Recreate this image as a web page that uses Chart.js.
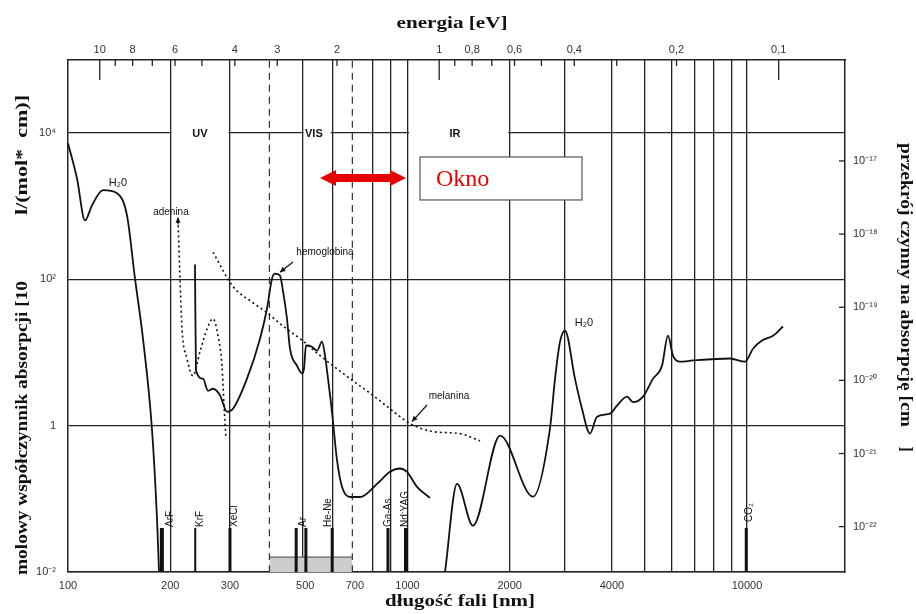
<!DOCTYPE html>
<html lang="pl">
<head>
<meta charset="utf-8">
<title>Widmo absorpcji</title>
<script src="https://cdn.jsdelivr.net/npm/chart.js@4.4.1/dist/chart.umd.min.js"></script>
<style>
  html, body { margin: 0; padding: 0; background: #fff; }
</style>
</head>
<body>
<canvas id="wykres" width="916" height="614"></canvas>
<script>
// dane: dlugosc fali [nm] i wartosc [l/(mol*cm)]
const wodaUvNm   = [100, 106.3, 112.2, 117.7, 126.8, 139.4, 149.2, 157.5, 166.3, 176.7, 182.9, 185.4];
const wodaUvWart = [7300, 2400, 640, 1030, 1660, 1510, 750, 103, 15.5, 0.91, 0.053, 0.01];

const wodaIrNm   = [1290, 1399, 1559, 1873, 2343, 2628, 2720, 2813, 2910, 3114, 3266, 3448, 3616, 3950, 4141,
                    4432, 4616, 4940, 5287, 5618, 5852, 6053, 6348, 6934, 8914, 9865, 10416, 11072, 11929, 12764];
const wodaIrWart = [0.01, 0.16, 0.043, 0.73, 0.107, 0.91, 4.4, 14, 20, 4.4, 1.7, 0.78, 1.33, 1.46, 1.88,
                    2.5, 2.1, 2.5, 4.4, 6.6, 17, 9.1, 7.5, 7.8, 8.3, 7.5, 11.3, 14.6, 17, 22.7];

const hemoNm   = [236.6, 238.2, 249.8, 258.5, 267.4, 280.4, 294, 306.2, 336.7, 367.8, 385.7, 399, 407.2, 421.2,
                  429.9, 441.6, 450.7, 472.6, 488.9, 495.6, 502.3, 523.2, 541.2, 560, 571.5, 583.2, 599.2,
                  619.9, 641.3, 676.9, 724.7, 813.2, 888.2, 950.4, 996.6, 1066.6, 1165];
const hemoWart = [160, 5.7, 4.4, 3.0, 3.2, 2.6, 1.55, 1.71, 4.4, 15.5, 40, 103, 120, 113,
                  69, 29, 11.3, 6.6, 5.2, 6.0, 12.5, 12, 10.6, 14.1, 9.1, 4.4, 1.55,
                  0.34, 0.146, 0.106, 0.106, 0.16, 0.234, 0.26, 0.234, 0.146, 0.103];

const adeninaNm   = [210.9, 213.8, 216.7, 224.1, 233.4, 244.8, 256.7, 267.4, 276.6, 284.2, 288.1, 292.0];
const adeninaWart = [640, 100, 21, 8.3, 4.8, 10.3, 21, 29, 17, 6.6, 1.9, 0.66];

const melaninaNm   = [267.4, 306.2, 350.7, 385.7, 429.9, 482.4, 552.6, 676.9, 791.3, 950.4, 1017, 1188.8, 1427.6, 1635];
const melaninaWart = [235, 80, 48, 35, 23, 15.5, 9.1, 4.4, 2.6, 1.33, 1.07, 0.83, 0.78, 0.62];

// lasery
const laseryNazwy = ['ArF', 'KrF', 'XeCl', 'Ar', '', 'He-Ne', 'Ga-As', 'Nd:YAG', 'CO₂'];
const laseryNm    = [189, 237, 300, 470, 502, 600, 876, 990, 9950];
const laserWys    = 0.04;

// zakres widzialny
const widzialnyNm = [392, 688];
const widzialnyWys = 0.016;

// osie
const osXEtykiety = [100, 200, 300, 500, 700, 1000, 2000, 4000, 10000];
const liniePionoweNm = [200, 300, 490, 600, 790, 890, 1000, 2000, 2900, 4000, 5000, 6000, 7000, 8000, 9000, 10000];
const osYWart = [0.01, 1, 100, 10000];
const osYEtykiety = ['10⁻²', '1', '10²', '10⁴'];
const przekrojWart = [1e-22, 1e-21, 1e-20, 1e-19, 1e-18, 1e-17];
const przekrojEtykiety = ['10⁻²²', '10⁻²¹', '10⁻²⁰', '10⁻¹⁹', '10⁻¹⁸', '10⁻¹⁷'];
const przesuniecieLog = 20.62;   // log10(lewa) - log10(prawa)
const energie = [10, 8, 6, 4, 3, 2, 1, 0.8, 0.6, 0.4, 0.2, 0.1];
const energieEtykiety = ['10', '8', '6', '4', '3', '2', '1', '0,8', '0,6', '0,4', '0,2', '0,1'];
const energieDrobne = [9, 7, 5, 0.9, 0.7, 0.5, 0.3];

// zakresy widma
const zakresy = [['UV', 244.8], ['VIS', 530], ['IR', 1380]];
const przerwy10k = [[200, 300], [490, 600], [1000, 2000]];

const XMIN = 100, XMAX = 19440, YMIN = 0.01, YMAX = 1e5;

function seria(nm, wart, styl) {
  return Object.assign({
    data: nm.map((x, i) => ({ x: x, y: wart[i] })),
    showLine: true,
    pointRadius: 0,
    borderColor: '#111',
    borderWidth: 1.8,
    fill: false,
    cubicInterpolationMode: 'monotone',
    xAxisID: 'x',
    yAxisID: 'y',
    order: 1
  }, styl || {});
}

const datasets = [];
datasets.push(seria(wodaUvNm, wodaUvWart));
datasets.push(seria(wodaIrNm, wodaIrWart));
datasets.push(seria(hemoNm, hemoWart));
datasets.push(seria(adeninaNm, adeninaWart, { borderDash: [2, 3], borderWidth: 1.6 }));
datasets.push(seria(melaninaNm, melaninaWart, { borderDash: [2, 3], borderWidth: 1.6 }));

const laserGrubosc = [4, 2, 3, 3, 3, 3, 3, 4, 3];
laseryNm.forEach((nm, i) => {
  datasets.push(seria([nm, nm], [YMIN, laserWys], { borderWidth: laserGrubosc[i], cubicInterpolationMode: 'default', order: 0 }));
});

widzialnyNm.forEach(nm => {
  datasets.push(seria([nm, nm], [YMIN, YMAX], { borderWidth: 1.2, borderColor: '#333', borderDash: [7, 5], order: 9 }));
});
datasets.push(seria(widzialnyNm, [widzialnyWys, widzialnyWys], {
  borderWidth: 1, borderColor: '#444', backgroundColor: '#cdcdcd', fill: 'start', order: 10
}));

const czcionkaOs = { family: '"Liberation Sans", Arial, sans-serif', size: 11 };
const fontTytul = 'bold 17px "Liberation Serif", "Times New Roman", serif';

function strzalka(ctx, x1, y1, x2, y2, r) {
  const kat = Math.atan2(y2 - y1, x2 - x1);
  ctx.beginPath();
  ctx.moveTo(x1, y1);
  ctx.lineTo(x2, y2);
  ctx.stroke();
  ctx.beginPath();
  ctx.moveTo(x2, y2);
  ctx.lineTo(x2 - r * Math.cos(kat - 0.45), y2 - r * Math.sin(kat - 0.45));
  ctx.lineTo(x2 - r * Math.cos(kat + 0.45), y2 - r * Math.sin(kat + 0.45));
  ctx.closePath();
  ctx.fill();
}

// tekst rozciagniety do zadanej dlugosci (skan ma szersze litery)
function tekstDopasowany(ctx, t, cx, cy, dlug, kat) {
  ctx.save();
  ctx.translate(cx, cy);
  ctx.rotate(kat);
  const w = ctx.measureText(t).width;
  ctx.scale(dlug / w, 1);
  ctx.fillText(t, 0, 0);
  ctx.restore();
}

const adnotacje = {
  id: 'adnotacje',
  beforeDatasetsDraw(chart) {
    const { ctx, scales: { x, y } } = chart;
    const y4 = y.getPixelForValue(1e4);
    ctx.save();
    ctx.fillStyle = '#fff';
    przerwy10k.forEach(([p, k]) => {
      const x1 = x.getPixelForValue(p) + 1.5, x2 = x.getPixelForValue(k) - 1.5;
      ctx.fillRect(x1, y4 - 2, x2 - x1, 4);
    });
    ctx.fillStyle = '#111';
    ctx.font = 'bold 11px "Liberation Sans", Arial, sans-serif';
    ctx.textAlign = 'center';
    ctx.textBaseline = 'middle';
    zakresy.forEach(([t, nm]) => ctx.fillText(t, x.getPixelForValue(nm), y4 + 1));
    ctx.restore();
  },
  afterDatasetsDraw(chart) {
    const { ctx, chartArea: a, scales: { x, y } } = chart;
    const X = v => x.getPixelForValue(v), Y = v => y.getPixelForValue(v);
    ctx.save();
    ctx.fillStyle = '#111';
    ctx.strokeStyle = '#111';
    ctx.lineWidth = 1.2;
    ctx.textAlign = 'center';
    ctx.textBaseline = 'middle';

    // podpisy krzywych
    ctx.font = '11px "Liberation Sans", Arial, sans-serif';
    ctx.fillText('H₂0', X(140.4), Y(2080));
    ctx.fillText('H₂0', X(3311), Y(25.4));
    ctx.font = '10px "Liberation Sans", Arial, sans-serif';
    ctx.fillText('adenina', X(201), Y(835));
    ctx.fillText('hemoglobina', X(571.5), Y(237));
    ctx.fillText('melanina', X(1325), Y(2.55));

    // strzalki
    const ax = X(adeninaNm[0]), ay = Y(adeninaWart[0]);
    strzalka(ctx, ax, ay + 4, ax, ay - 3, 6);
    strzalka(ctx, X(571.5) - 32, Y(237) + 10, X(421), Y(118) - 2, 6);
    strzalka(ctx, X(1325) - 22, Y(2.55) + 9, X(1017) + 2, Y(1.07) - 2, 6);

    // etykiety laserow
    ctx.font = '10px "Liberation Sans", Arial, sans-serif';
    ctx.textAlign = 'left';
    const dx = [8, 5, 4, 7, 0, -4, 0, -1, 3];
    laseryNazwy.forEach((t, i) => {
      if (!t) return;
      const px = X(laseryNm[i]) + dx[i];
      const py = Y(laserWys) - (t === 'CO₂' ? 6 : 1);
      ctx.save();
      ctx.translate(px, py);
      ctx.rotate(-Math.PI / 2);
      ctx.fillText(t, 0, 0);
      ctx.restore();
    });

    // okno
    const sy = Y(2440), sx1 = X(552.6), sx2 = X(990);
    ctx.fillStyle = '#e60000';
    ctx.beginPath();
    ctx.moveTo(sx1, sy);
    ctx.lineTo(sx1 + 16, sy - 8);
    ctx.lineTo(sx1 + 16, sy - 4);
    ctx.lineTo(sx2 - 16, sy - 4);
    ctx.lineTo(sx2 - 16, sy - 8);
    ctx.lineTo(sx2, sy);
    ctx.lineTo(sx2 - 16, sy + 8);
    ctx.lineTo(sx2 - 16, sy + 4);
    ctx.lineTo(sx1 + 16, sy + 4);
    ctx.lineTo(sx1 + 16, sy + 8);
    ctx.closePath();
    ctx.fill();
    const bx1 = X(1088.5), bx2 = X(3266), by1 = Y(4720), by2 = Y(1220);
    ctx.fillStyle = '#fff';
    ctx.fillRect(bx1, by1, bx2 - bx1, by2 - by1);
    ctx.strokeStyle = '#555';
    ctx.lineWidth = 1.2;
    ctx.strokeRect(bx1, by1, bx2 - bx1, by2 - by1);
    ctx.fillStyle = '#ee0000';
    ctx.font = '24px "Liberation Serif", "Times New Roman", serif';
    ctx.textAlign = 'left';
    ctx.fillText('Okno', bx1 + 16, (by1 + by2) / 2 + 1);

    // kreski osi energii (do wnetrza)
    ctx.strokeStyle = '#222';
    ctx.lineWidth = 1.3;
    energie.concat(energieDrobne).forEach(e => {
      const px = X(1240 / e);
      const dl = (e === 10 || e === 1 || e === 0.1) ? 20 : 6;
      ctx.beginPath();
      ctx.moveTo(px, a.top);
      ctx.lineTo(px, a.top + dl);
      ctx.stroke();
    });
    // kreski prawej osi
    const s2 = chart.scales.y2;
    przekrojWart.forEach(v => {
      const py = s2.getPixelForValue(v);
      ctx.beginPath();
      ctx.moveTo(a.right - 6, py);
      ctx.lineTo(a.right, py);
      ctx.stroke();
    });
    ctx.restore();
  },
  afterDraw(chart) {
    const { ctx } = chart;
    ctx.save();
    ctx.fillStyle = '#111';
    ctx.font = fontTytul;
    ctx.textAlign = 'center';
    ctx.textBaseline = 'middle';
    tekstDopasowany(ctx, 'energia [eV]', 452, 24, 111, 0);
    tekstDopasowany(ctx, 'długość fali [nm]', 460, 602, 150, 0);
    tekstDopasowany(ctx, 'molowy współczynnik absorpcji [10', 23, 428, 294, -Math.PI / 2);
    tekstDopasowany(ctx, 'l/(mol*  cm)]', 23, 155, 120, -Math.PI / 2);
    tekstDopasowany(ctx, 'przekrój czynny na absorpcję [cm', 905, 285, 284, Math.PI / 2);
    tekstDopasowany(ctx, ']', 905, 449, 5, Math.PI / 2);
    ctx.restore();
  }
};

const tickiX = Array.from(new Set(osXEtykiety.concat(liniePionoweNm))).sort((p, q) => p - q);

new Chart(document.getElementById('wykres'), {
  type: 'scatter',
  data: { datasets: datasets },
  options: {
    responsive: false,
    animation: false,
    devicePixelRatio: 1,
    layout: { padding: 0 },
    plugins: { legend: { display: false }, tooltip: { enabled: false } },
    scales: {
      x: {
        type: 'logarithmic', position: 'bottom', min: XMIN, max: XMAX,
        afterBuildTicks: s => { s.ticks = tickiX.map(v => ({ value: v })); },
        afterFit: s => { s.height = 42; },
        ticks: {
          autoSkip: false, maxRotation: 0, padding: 7, color: '#333', font: czcionkaOs,
          callback: v => osXEtykiety.includes(v) ? String(v) : ''
        },
        grid: {
          drawTicks: false, lineWidth: 1.3,
          color: c => (c.tick && liniePionoweNm.includes(c.tick.value)) ? '#222' : 'rgba(0,0,0,0)'
        },
        border: { display: true, color: '#222', width: 1.5 }
      },
      x2: {
        type: 'logarithmic', position: 'top', min: XMIN, max: XMAX,
        afterBuildTicks: s => { s.ticks = energie.map(e => ({ value: 1240 / e })); },
        afterFit: s => { s.height = 60; },
        ticks: {
          autoSkip: false, maxRotation: 0, padding: 3, color: '#333', font: czcionkaOs,
          callback: (v, i) => energieEtykiety[i]
        },
        grid: { drawTicks: false, drawOnChartArea: false, color: 'rgba(0,0,0,0)' },
        border: { display: true, color: '#222', width: 1.5 }
      },
      y: {
        type: 'logarithmic', position: 'left', min: YMIN, max: YMAX,
        afterBuildTicks: s => { s.ticks = osYWart.map(v => ({ value: v })); },
        afterFit: s => { s.width = 68; },
        ticks: {
          autoSkip: false, padding: 12, color: '#333', font: czcionkaOs,
          callback: (v, i) => osYEtykiety[i]
        },
        grid: { drawTicks: false, color: '#222', lineWidth: 1.3 },
        border: { display: true, color: '#222', width: 1.5 }
      },
      y2: {
        type: 'logarithmic', position: 'right',
        min: Math.pow(10, Math.log10(YMIN) - przesuniecieLog),
        max: Math.pow(10, Math.log10(YMAX) - przesuniecieLog),
        afterBuildTicks: s => { s.ticks = przekrojWart.map(v => ({ value: v })); },
        afterFit: s => { s.width = 71; },
        ticks: {
          autoSkip: false, padding: 8, color: '#333', font: czcionkaOs,
          callback: (v, i) => przekrojEtykiety[i]
        },
        grid: { drawTicks: false, drawOnChartArea: false, color: 'rgba(0,0,0,0)' },
        border: { display: true, color: '#222', width: 1.5 }
      }
    }
  },
  plugins: [adnotacje]
});
</script>
</body>
</html>
